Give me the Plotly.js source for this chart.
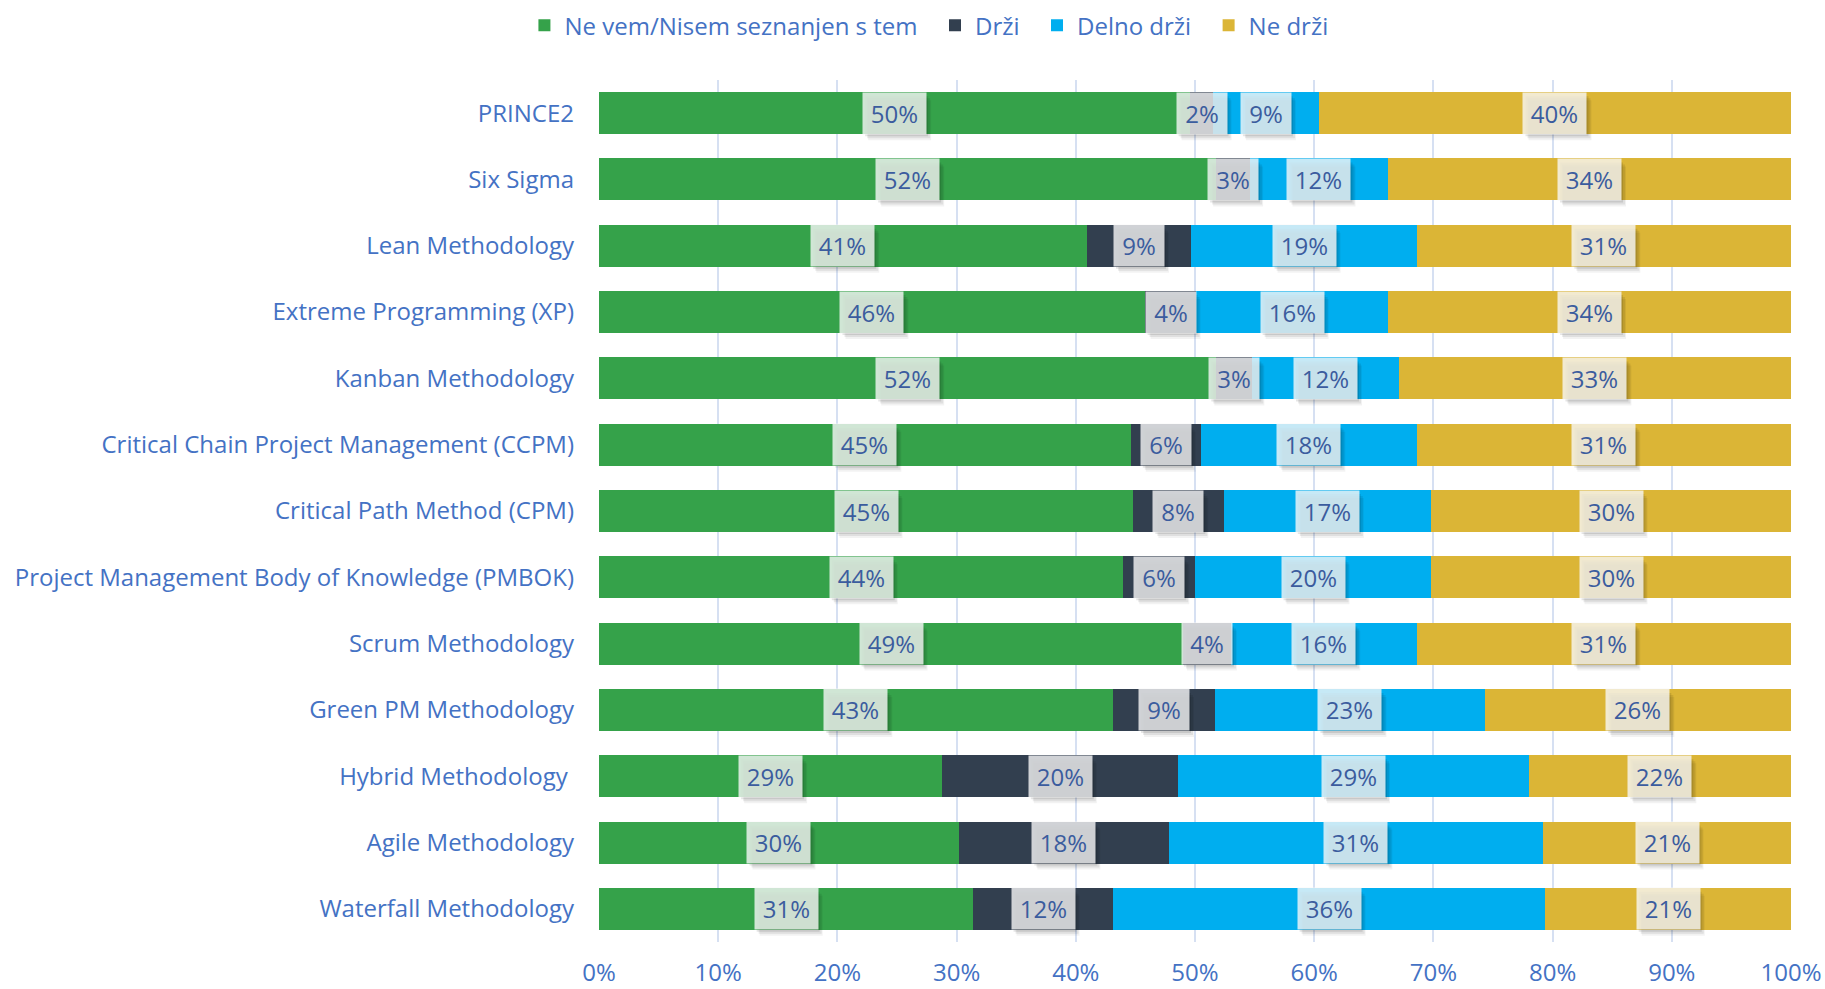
<!DOCTYPE html>
<html>
<head>
<meta charset="utf-8">
<script src="https://cdn.plot.ly/plotly-3.0.1.min.js"></script>
<style>html,body{margin:0;padding:0;background:#fff;}#chart{width:1825px;height:989px;}</style>
</head>
<body>
<div id="chart"></div>
<script>
// Categories, top to bottom
const categories = [
  "PRINCE2",
  "Six Sigma",
  "Lean Methodology",
  "Extreme Programming (XP)",
  "Kanban Methodology",
  "Critical Chain Project Management (CCPM)",
  "Critical Path Method (CPM)",
  "Project Management Body of Knowledge (PMBOK)",
  "Scrum Methodology",
  "Green PM Methodology",
  "Hybrid Methodology\u00a0",
  "Agile Methodology",
  "Waterfall Methodology"
];

// Series values (percent)
const neVem    = [49.6, 51.8, 40.9, 45.8, 51.8, 44.6, 44.8, 44.0, 49.0, 43.1, 28.8, 30.2, 31.4];
const drzi     = [ 1.9,  2.8,  8.8,  4.3,  3.0,  5.9,  7.6,  6.0,  4.0,  8.6, 19.8, 17.6, 11.7];
const delnoDrzi= [ 8.9, 11.6, 18.9, 16.1, 12.3, 18.1, 17.4, 19.8, 15.6, 22.6, 29.4, 31.4, 36.3];
const neDrzi   = [39.6, 33.8, 31.4, 33.8, 32.9, 31.4, 30.2, 30.2, 31.4, 25.7, 22.0, 20.8, 20.6];

const seriesNames = ["Ne vem/Nisem seznanjen s tem", "Drži", "Delno drži", "Ne drži"];
const seriesData = [neVem, drzi, delnoDrzi, neDrzi];
const seriesColors = ["#35a24a", "#323f4f", "#00aeef", "#dbb536"];

const tickVals = [0,10,20,30,40,50,60,70,80,90,100];
const tickText = ["0%","10%","20%","30%","40%","50%","60%","70%","80%","90%","100%"];

const FONT = "Open Sans, Noto Sans, sans-serif";
const FS = 24;
const LABEL_BLUE = "#4472c4";
const ANN_TEXT = "#3b5c9e";
const PAD = "\u00a0\u00a0";

const traces = seriesData.map((vals, i) => ({
  type: "bar",
  orientation: "h",
  name: seriesNames[i] + (i < seriesNames.length - 1 ? PAD : ""),
  y: categories,
  x: vals,
  marker: {color: seriesColors[i], line: {width: 0}},
  hoverinfo: "x+y"
}));

// Labels: boxes centred in each segment, with a soft shadow (shapes)
const shapes = [];
const boxes = [];
categories.forEach((cat, r) => {
  let cum = 0;
  seriesData.forEach((vals, s) => {
    const v = vals[r];
    const mid = cum + v / 2;
    cum += v;
    const txt = Math.round(v) + "%";
    const w = txt.length >= 3 ? 63 : 50;
    [[2, 3, 0.10], [4, 5, 0.08], [5, 7, 0.05]].forEach(([dx, dy, a]) => {
      shapes.push({
        type: "rect", layer: "above",
        xref: "x", yref: "y",
        xsizemode: "pixel", ysizemode: "pixel",
        xanchor: mid, yanchor: r,
        x0: -w / 2 + dx, x1: w / 2 + dx,
        y0: -20 - dy, y1: 20 - dy,
        fillcolor: "rgba(0,0,0," + a + ")",
        line: {width: 0}
      });
    });
    boxes.push({
      x: mid, y: cat, xref: "x", yref: "y", text: txt, showarrow: false,
      font: {family: FONT, size: FS, color: ANN_TEXT},
      bgcolor: "rgba(248,248,248,0.8)", width: w, height: 41, borderpad: 0
    });
  });
});

const layout = {
  width: 1825,
  height: 989,
  paper_bgcolor: "#ffffff",
  plot_bgcolor: "#ffffff",
  barmode: "stack",
  bargap: 0.367,
  margin: {l: 599, r: 34, t: 80, b: 47, pad: 0},
  font: {family: FONT, size: FS, color: LABEL_BLUE},
  showlegend: true,
  legend: {
    orientation: "h",
    xref: "container", yref: "container",
    x: 0.509, xanchor: "center",
    y: 0.974, yanchor: "middle",
    font: {family: FONT, size: FS, color: LABEL_BLUE},
    traceorder: "normal",
    bgcolor: "rgba(0,0,0,0)"
  },
  xaxis: {
    range: [0, 100],
    tickvals: tickVals,
    ticktext: tickText,
    showgrid: true,
    gridcolor: "#d6e0f2",
    gridwidth: 1.5,
    zeroline: false,
    showline: false,
    ticks: "",
    ticklabelstandoff: 14,
    tickfont: {family: FONT, size: FS, color: LABEL_BLUE},
    fixedrange: true
  },
  yaxis: {
    type: "category",
    categoryorder: "array",
    categoryarray: categories,
    autorange: "reversed",
    showgrid: false,
    zeroline: false,
    showline: false,
    ticks: "",
    ticklabelstandoff: 24,
    tickfont: {family: FONT, size: FS, color: LABEL_BLUE},
    fixedrange: true
  },
  shapes: shapes,
  annotations: boxes
};

Plotly.newPlot("chart", traces, layout, {displayModeBar: false});
</script>
</body>
</html>
